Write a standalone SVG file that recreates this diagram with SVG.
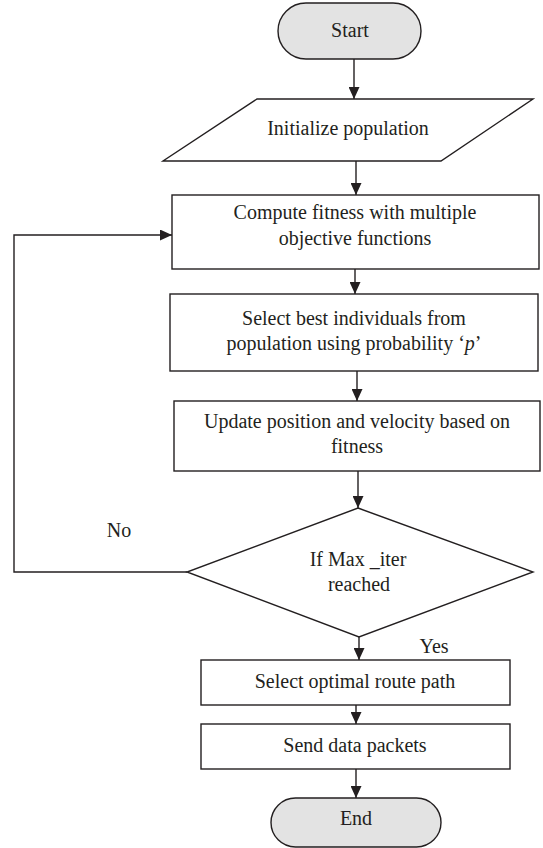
<svg xmlns="http://www.w3.org/2000/svg" width="543" height="848" viewBox="0 0 543 848">
<style>
.s{fill:#fff;stroke:#231f20;stroke-width:1.4}
.t{fill:#e3e3e3;stroke:#231f20;stroke-width:1.4}
text{font-family:"Liberation Serif","Times New Roman",serif;font-size:20px;fill:#231f20;text-anchor:middle}
.c{fill:none;stroke:#231f20;stroke-width:1.4}
</style>
<defs>
<marker id="ah" markerUnits="userSpaceOnUse" markerWidth="12" markerHeight="11" refX="12" refY="5.5" orient="auto">
<path d="M0,0 L12,5.5 L0,11 z" fill="#231f20"/>
</marker>
</defs>
<rect width="543" height="848" fill="#fff"/>
<g id="connectors">
<line class="c" x1="354" y1="59" x2="354" y2="99" marker-end="url(#ah)"/>
<line class="c" x1="356" y1="161" x2="356" y2="195" marker-end="url(#ah)"/>
<line class="c" x1="355" y1="269" x2="355" y2="294" marker-end="url(#ah)"/>
<line class="c" x1="357" y1="371" x2="357" y2="401" marker-end="url(#ah)"/>
<line class="c" x1="358" y1="471" x2="358" y2="508" marker-end="url(#ah)"/>
<line class="c" x1="359" y1="637" x2="359" y2="660" marker-end="url(#ah)"/>
<line class="c" x1="356" y1="705" x2="356" y2="724" marker-end="url(#ah)"/>
<line class="c" x1="356" y1="769" x2="356" y2="798" marker-end="url(#ah)"/>
<polyline class="c" points="187,572 14,572 14,235 172,235" marker-end="url(#ah)"/>
<text x="119" y="537">No</text>
<text x="434" y="653">Yes</text>
</g>
<g id="start">
<rect class="t" x="278" y="3" width="143" height="56" rx="28"/>
<text x="350" y="37">Start</text>
</g>
<g id="init">
<polygon class="s" points="257,99 533,99 441,161 163,161"/>
<text x="348" y="135">Initialize population</text>
</g>
<g id="compute">
<rect class="s" x="172" y="195" width="367" height="74"/>
<text x="355" y="219">Compute fitness with multiple</text>
<text x="355" y="245">objective functions</text>
</g>
<g id="select">
<rect class="s" x="170" y="294" width="368" height="77"/>
<text x="354" y="325">Select best individuals from</text>
<text x="354" y="350">population using probability ‘<tspan font-style="italic">p</tspan>’</text>
</g>
<g id="update">
<rect class="s" x="174" y="401" width="366" height="70"/>
<text x="357" y="428">Update position and velocity based on</text>
<text x="357" y="453">fitness</text>
</g>
<g id="decision">
<polygon class="s" points="358,508 533,572 359,637 187,572"/>
<text x="358" y="566">If Max _iter</text>
<text x="359" y="591">reached</text>
</g>
<g id="route">
<rect class="s" x="201" y="660" width="309" height="45"/>
<text x="355" y="688">Select optimal route path</text>
</g>
<g id="send">
<rect class="s" x="201" y="724" width="309" height="45"/>
<text x="355" y="752">Send data packets</text>
</g>
<g id="end">
<rect class="t" x="271" y="798" width="170" height="49" rx="24.5"/>
<text x="356" y="825">End</text>
</g>
</svg>
